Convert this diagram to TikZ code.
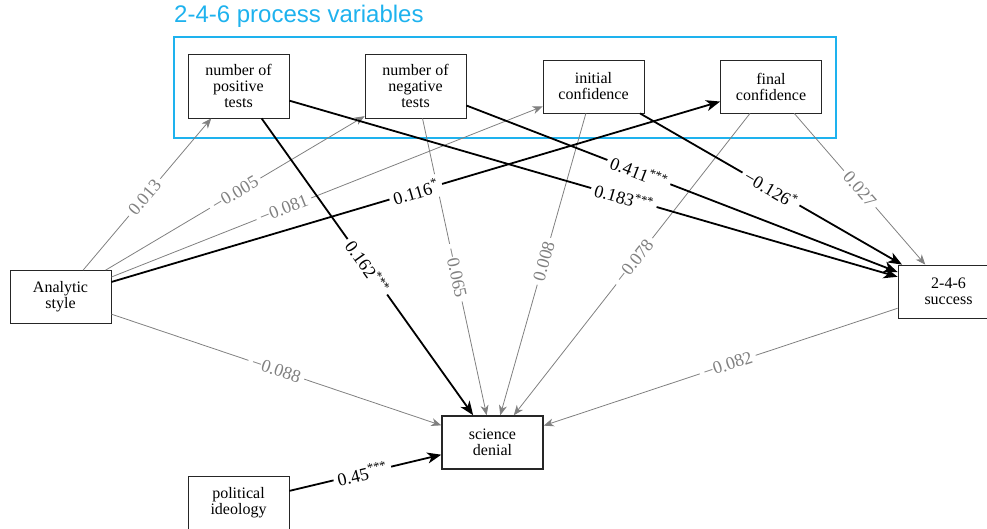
\documentclass[tikz,border=0pt]{standalone}
\usepackage{fontspec}
\setmainfont{Liberation Serif}
\newfontfamily\titlefont{Liberation Sans}
\usetikzlibrary{arrows.meta}
\definecolor{procblue}{RGB}{30,178,238}
\definecolor{edgegray}{RGB}{128,128,128}
\begin{document}
\begin{tikzpicture}[x=1pt,y=-1pt,
  varbox/.style={draw=black!85,line width=0.8pt,fill=white,minimum width=101pt,minimum height=53pt,
    align=center,inner sep=2pt,font=\fontsize{16}{16}\selectfont},
  tallbox/.style={varbox,minimum height=64pt},
  outbox/.style={varbox,line width=1.5pt},
  gline/.style={draw=edgegray,line width=0.8pt,-{Stealth[length=10pt,width=8pt,inset=3pt]}},
  bline/.style={draw=black,line width=1.8pt,-{Stealth[length=14pt,width=11pt,inset=4pt]}},
  lab/.style={sloped,fill=white,inner sep=4pt,font=\fontsize{18}{18}\selectfont},
  glab/.style={lab,text=edgegray},
  blab/.style={lab,text=black}
]
\useasboundingbox (0,0) rectangle (987,529);
\node[font=\titlefont\fontsize{24}{26}\selectfont,text=procblue,anchor=west,inner sep=0pt] (title) at (174,16) {2-4-6 process variables};
\draw[procblue,line width=1.2pt] (174,37) rectangle (836,138);
\node[tallbox] (npos) at (238.5,86) {number of\\positive\\tests};
\node[tallbox] (nneg) at (415.5,86) {number of\\negative\\tests};
\node[varbox] (iconf) at (593.5,86.5) {initial\\confidence};
\node[varbox] (fconf) at (771,86.5) {final\\confidence};
\node[varbox] (anal) at (60.5,297) {Analytic\\style};
\node[varbox] (succ) at (948.5,291.5) {2-4-6\\success};
\node[outbox] (sci) at (492.5,442.5) {science\\denial};
\node[varbox] (pol) at (238.5,503) {political\\ideology};
% gray paths
\draw[gline] (anal) -- node[glab,pos=0.48]{0.013} (npos);
\draw[gline] (anal) -- node[glab,pos=0.5]{−0.005} (nneg);
\draw[gline] (anal) -- node[glab,pos=0.4]{−0.081} (iconf);
\draw[gline] (anal) -- node[glab,pos=0.5]{−0.088} (sci);
\draw[gline] (nneg) -- node[glab,pos=0.52]{−0.065} (sci);
\draw[gline] (iconf) -- node[glab,pos=0.49]{0.008} (sci);
\draw[gline] (fconf) -- node[glab,pos=0.49]{−0.078} (sci);
\draw[gline] (fconf) -- node[glab,pos=0.5]{0.027} (succ);
\draw[gline] (succ) -- node[glab,pos=0.48]{−0.082} (sci);
% black paths
\draw[bline] (npos) -- node[blab,pos=0.5]{0.162\textsuperscript{***}} (sci);
\draw[bline] (npos) -- node[blab,pos=0.55]{0.183\textsuperscript{***}} (succ);
\draw[bline] (nneg) -- node[blab,pos=0.4]{0.411\textsuperscript{***}} (succ);
\draw[bline] (iconf) -- node[blab,pos=0.5]{−0.126\textsuperscript{*}} (succ);
\draw[bline] (anal) -- node[blab,pos=0.5]{0.116\textsuperscript{*}} (fconf);
\draw[bline] (pol) -- node[blab,pos=0.48]{0.45\textsuperscript{***}} (sci);
\end{tikzpicture}
\end{document}
